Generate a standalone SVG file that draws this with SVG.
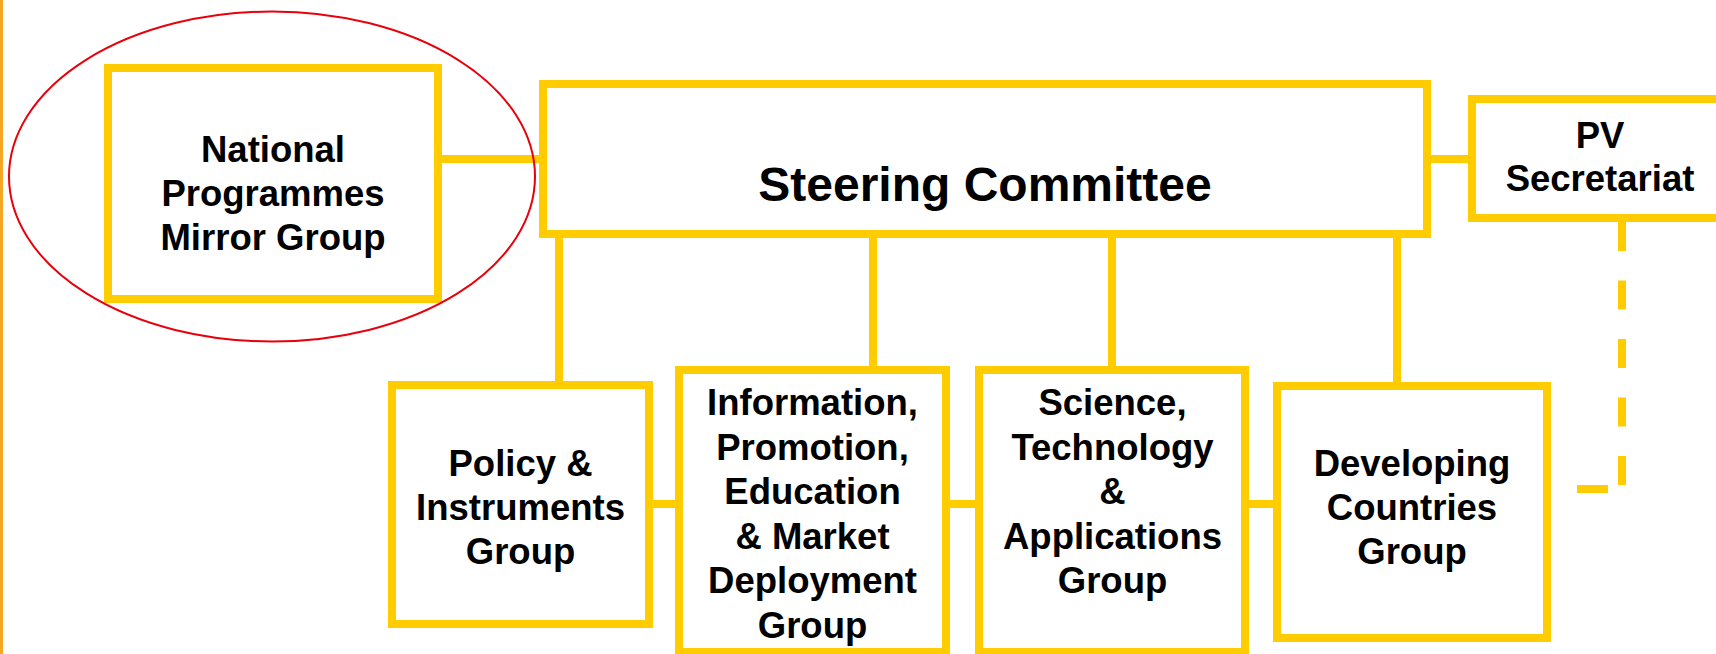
<svg xmlns="http://www.w3.org/2000/svg" width="1716" height="654" viewBox="0 0 1716 654">
<style>
.box{fill:#fff;stroke:#FFCC00;stroke-width:8}
.con{fill:none;stroke:#FFCC00;stroke-width:8}
.t{font-family:"Liberation Sans",Arial,sans-serif;font-weight:bold;font-size:36.5px;fill:#000;text-anchor:middle}
</style>
<rect x="0" y="0" width="1716" height="654" fill="#fff"/>
<rect x="0" y="0" width="3" height="654" fill="#F5A623"/>
<g id="connectors">
<path class="con" d="M442 159H539M1431 159H1468"/>
<path class="con" d="M559 238V381M873 238V366M1112 238V366M1397 238V382"/>
<path class="con" d="M653 504H675M950 504H975M1249 504H1273"/>
<path class="con" d="M1622 222V490" stroke-dasharray="29 29.5"/>
<path class="con" d="M1577 489H1608"/>
</g>
<g id="national">
<rect class="box" x="108" y="68" width="330" height="231"/>
<text class="t" x="273" y="162">National</text>
<text class="t" x="273" y="205.5">Programmes</text>
<text class="t" x="273" y="249.5">Mirror Group</text>
</g>
<g id="steering">
<rect class="box" x="543" y="84" width="884" height="150"/>
<text class="t" x="985" y="201" style="font-size:48px">Steering Committee</text>
</g>
<g id="pv">
<rect class="box" x="1472" y="99" width="258" height="119"/>
<text class="t" x="1600" y="148">PV</text>
<text class="t" x="1600" y="191">Secretariat</text>
</g>
<g id="policy">
<rect class="box" x="392" y="385" width="257" height="239"/>
<text class="t" x="520.5" y="476">Policy &amp;</text>
<text class="t" x="520.5" y="520">Instruments</text>
<text class="t" x="520.5" y="564">Group</text>
</g>
<g id="information">
<rect class="box" x="679" y="370" width="267" height="282"/>
<text class="t" x="812.5" y="415">Information,</text>
<text class="t" x="812.5" y="459.5">Promotion,</text>
<text class="t" x="812.5" y="504">Education</text>
<text class="t" x="812.5" y="548.5">&amp; Market</text>
<text class="t" x="812.5" y="593">Deployment</text>
<text class="t" x="812.5" y="637.5">Group</text>
</g>
<g id="science">
<rect class="box" x="979" y="370" width="266" height="282"/>
<text class="t" x="1112.5" y="415">Science,</text>
<text class="t" x="1112.5" y="459.5">Technology</text>
<text class="t" x="1112.5" y="504">&amp;</text>
<text class="t" x="1112.5" y="548.5">Applications</text>
<text class="t" x="1112.5" y="593">Group</text>
</g>
<g id="developing">
<rect class="box" x="1277" y="386" width="270" height="252"/>
<text class="t" x="1412" y="476">Developing</text>
<text class="t" x="1412" y="520">Countries</text>
<text class="t" x="1412" y="564">Group</text>
</g>
<g id="highlight">
<ellipse cx="272" cy="176.5" rx="263" ry="165" fill="none" stroke="#E8000B" stroke-width="2"/>
</g>
</svg>
